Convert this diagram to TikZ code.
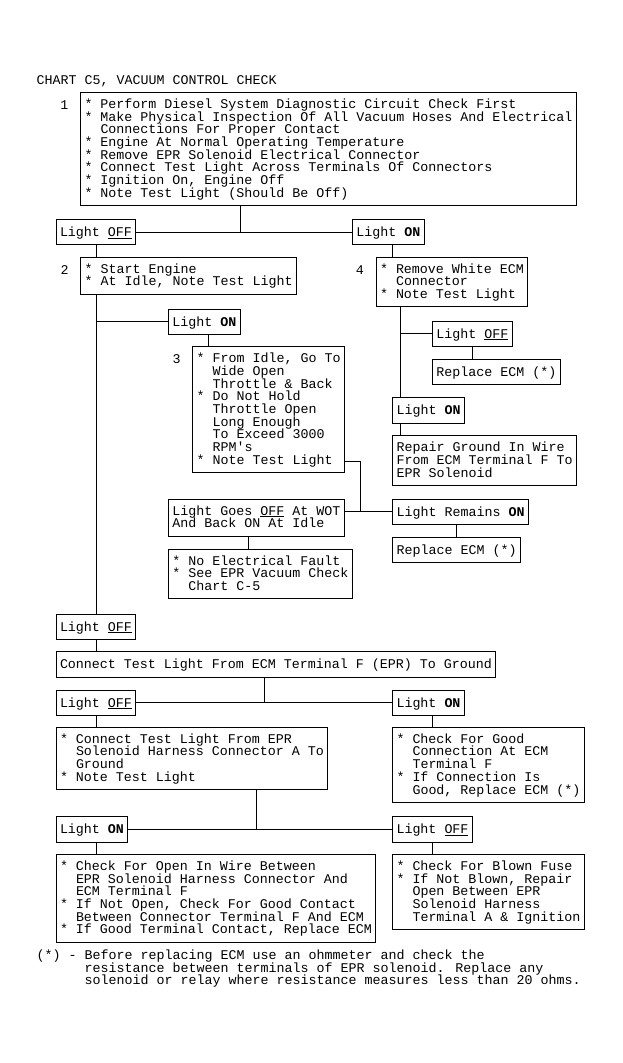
\documentclass[tikz,border=0pt]{standalone}
\usepackage{fontspec}
\setmainfont{Liberation Mono}[Ligatures=TeXOff]
\newcommand\chartfont{\fontsize{13.33}{12.7}\selectfont\lineskiplimit=-100pt\relax}
\newcommand\chstrut{\rule{0pt}{10.7pt}}
\newcommand\ind{\hspace*{16pt}}
\newsavebox\ulbox
\newcommand\uln[1]{\sbox\ulbox{#1}\rlap{\rule[-2pt]{\wd\ulbox}{1pt}}\usebox\ulbox}
\tikzset{
  box/.style={draw, line width=1pt, anchor=north west, inner xsep=4pt, inner ysep=6.3pt,
    outer sep=0pt, align=left, font=\chartfont, execute at begin node=\chstrut, text depth=2pt},
  lbl/.style={anchor=base east, inner sep=0pt, font=\chartfont},
  plain/.style={anchor=north west, inner sep=0pt, align=left, font=\chartfont,
    execute at begin node=\chstrut},
  wire/.style={line width=1pt}
}
\begin{document}
\begin{tikzpicture}[x=1pt, y=-1pt]
\fill[white] (0,0) rectangle (623,1063);
\useasboundingbox (0,0) rectangle (623,1063);

% title
\node[lbl, anchor=base west] (title) at (36.5,84.5) {CHART C5, VACUUM CONTROL CHECK};

% boxes
\node[box] (b1) at (80.5,92.5) {* Perform Diesel System Diagnostic Circuit Check First\\
* Make Physical Inspection Of All Vacuum Hoses And Electrical\\
\ind Connections For Proper Contact\\
* Engine At Normal Operating Temperature\\
* Remove EPR Solenoid Electrical Connector\\
* Connect Test Light Across Terminals Of Connectors\\
* Ignition On, Engine Off\\
* Note Test Light (Should Be Off)};
\node[lbl] (n1) at ([shift={(-12,17)}]b1.north west) {1};

\node[box] (off1) at (56,219.5) {Light \uln{OFF}};
\node[box] (on1) at (352.3,219.5) {Light \textbf{ON}};

\node[box] (b2) at (80.7,257.3) {* Start Engine\\
* At Idle, Note Test Light};
\node[lbl] (n2) at ([shift={(-12,17)}]b2.north west) {2};

\node[box] (b4) at (376,257.3) {* Remove White ECM\\
\ind Connector\\
* Note Test Light};
\node[lbl] (n4) at ([shift={(-12,17)}]b4.north west) {4};

\node[box] (on2) at (168.3,309) {Light \textbf{ON}};
\node[box] (off4) at (432.3,321) {Light \uln{OFF}};

\node[box] (b3) at (192.7,346.7) {* From Idle, Go To\\
\ind Wide Open\\
\ind Throttle \& Back\\
* Do Not Hold\\
\ind Throttle Open\\
\ind Long Enough\\
\ind To Exceed 3000\\
\ind RPM's\\
* Note Test Light};
\node[lbl] (n3) at ([shift={(-12,17)}]b3.north west) {3};

\node[box] (rep1) at (432.3,359.3) {Replace ECM (*)};
\node[box] (on4) at (392.7,397.7) {Light \textbf{ON}};
\node[box] (repair) at (392.7,435.7) {Repair Ground In Wire\\
From ECM Terminal F To\\
EPR Solenoid};

\node[box] (goesoff) at (168.3,499.3) {Light Goes \uln{OFF} At WOT\\
And Back ON At Idle};
\node[box] (remon) at (392.7,499.3) {Light Remains \textbf{ON}};
\node[box] (rep2) at (392.7,537.3) {Replace ECM (*)};
\node[box] (noelec) at (168.3,549.3) {* No Electrical Fault\\
* See EPR Vacuum Check\\
\ind Chart C-5};

\node[box] (off5) at (56,614) {Light \uln{OFF}};
\node[box] (conn) at (56,651.7) {Connect Test Light From ECM Terminal F (EPR) To Ground};

\node[box] (off6) at (56,690) {Light \uln{OFF}};
\node[box] (on6) at (392.5,690) {Light \textbf{ON}};

\node[box] (epr) at (56,727.3) {* Connect Test Light From EPR\\
\ind Solenoid Harness Connector A To\\
\ind Ground\\
* Note Test Light};
\node[box] (good) at (392.5,727.3) {* Check For Good\\
\ind Connection At ECM\\
\ind Terminal F\\
* If Connection Is\\
\ind Good, Replace ECM (*)};

\node[box] (on7) at (56,816.7) {Light \textbf{ON}};
\node[box] (off7) at (392.5,816.7) {Light \uln{OFF}};

\node[box] (open) at (56,854.5) {* Check For Open In Wire Between\\
\ind EPR Solenoid Harness Connector And\\
\ind ECM Terminal F\\
* If Not Open, Check For Good Contact\\
\ind Between Connector Terminal F And ECM\\
* If Good Terminal Contact, Replace ECM};
\node[box] (fuse) at (392.5,854.5) {* Check For Blown Fuse\\
* If Not Blown, Repair\\
\ind Open Between EPR\\
\ind Solenoid Harness\\
\ind Terminal A \& Ignition};

\node[plain] (foot) at (36.5,949.7) {(*) - Before replacing ECM use an ohmmeter and check the\\
\hspace*{48pt}resistance between terminals of EPR solenoid. Replace any\\
\hspace*{48pt}solenoid or relay where resistance measures less than 20 ohms.};

% junction / column coordinates
\coordinate (j1) at (240.3,232.15);
\coordinate (cL) at (96.5,0);
\coordinate (cR) at (392.5,0);
\coordinate (c3) at (208.3,0);
\coordinate (c4) at (400,0);
\coordinate (c5) at (248.7,0);
\coordinate (c6) at (456,0);
\coordinate (c7) at (472.5,0);
\coordinate (c8) at (432.4,0);
\coordinate (j3a) at (360.7,461);
\coordinate (j3b) at (360.7,511.95);
\coordinate (j7) at (264.3,702.65);
\coordinate (j9) at (256.7,829.35);

% connectors
\draw[wire] (b1.south -| j1) -- (j1);
\draw[wire] (off1.east) -- (on1.west);
\draw[wire] (off1.south -| cL) -- (b2.north -| cL);
\draw[wire] (on1.south -| cR) -- (b4.north -| cR);
\draw[wire] (b2.south -| cL) -- (off5.north -| cL);
\draw[wire] (on2.west -| cL) -- (on2.west);
\draw[wire] (on2.south -| c3) -- (b3.north -| c3);
\draw[wire] (b3.east |- j3a) -- (j3a) -- (j3b);
\draw[wire] (goesoff.east |- j3b) -- (remon.west);
\draw[wire] (goesoff.south -| c5) -- (noelec.north -| c5);
\draw[wire] (remon.south -| c6) -- (rep2.north -| c6);
\draw[wire] (b4.south -| c4) -- (on4.north -| c4);
\draw[wire] (off4.west -| c4) -- (off4.west);
\draw[wire] (off4.south -| c7) -- (rep1.north -| c7);
\draw[wire] (on4.south -| c4) -- (repair.north -| c4);
\draw[wire] (off5.south -| cL) -- (conn.north -| cL);
\draw[wire] (conn.south -| j7) -- (j7);
\draw[wire] (off6.east) -- (on6.west);
\draw[wire] (off6.south -| cL) -- (epr.north -| cL);
\draw[wire] (on6.south -| c8) -- (good.north -| c8);
\draw[wire] (epr.south -| j9) -- (j9);
\draw[wire] (on7.east) -- (off7.west);
\draw[wire] (on7.south -| cL) -- (open.north -| cL);
\draw[wire] (off7.south -| c8) -- (fuse.north -| c8);
\end{tikzpicture}
\end{document}
